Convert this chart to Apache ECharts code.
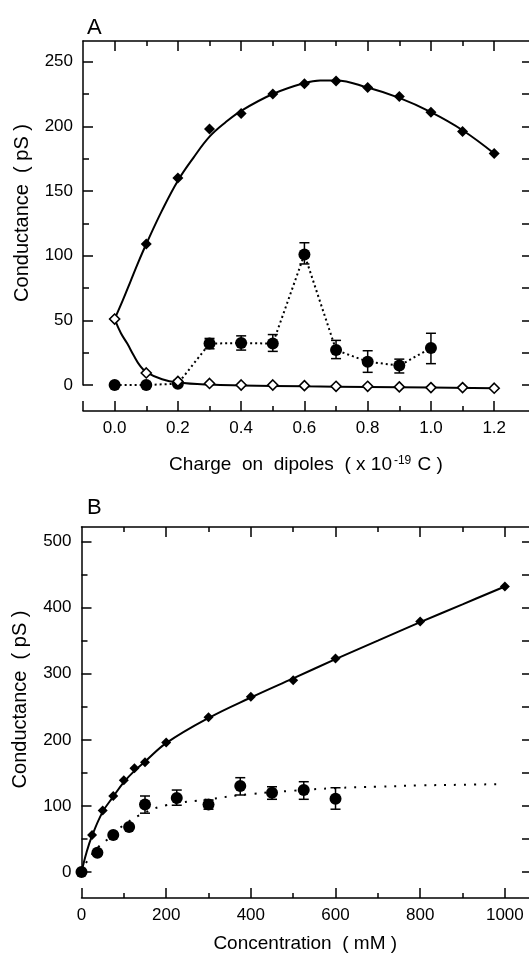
<!DOCTYPE html>
<html>
<head>
<meta charset="utf-8">
<script src="https://cdn.jsdelivr.net/npm/echarts@6/dist/echarts.min.js"></script>
<style>
html,body{margin:0;padding:0;background:#fff;}
#chart{width:529px;height:962px;}
</style>
</head>
<body>
<div id="chart"></div>
<script>
// ---------- Panel A data ----------
const chargeX = [0.0, 0.1, 0.2, 0.3, 0.4, 0.5, 0.6, 0.7, 0.8, 0.9, 1.0, 1.1, 1.2];
const aFilledDiamond = [51, 109, 160, 198, 210, 225, 233, 235, 230, 223, 211, 196, 179];
const aOpenDiamond = [51, 9.3, 2.8, 1.2, 0, 0, -0.5, -1, -1, -1.5, -2, -2, -2.5];
const aCircleX = [0.0, 0.1, 0.2, 0.3, 0.4, 0.5, 0.6, 0.7, 0.8, 0.9, 1.0];
const aCircle = [0, 0, 1, 32, 32.5, 32, 101, 27, 18, 15, 28.6];
const aCircleLow = [null, null, null, 28, 27, 26, 93.6, 20.4, 9.8, 9.3, 16.5];
const aCircleHigh = [null, null, null, 36, 38, 39, 110, 34.5, 26.5, 20, 40];
const aRiseFitX = [0, 0.025, 0.05, 0.075, 0.1, 0.15, 0.2, 0.25, 0.3, 0.35, 0.4, 0.5, 0.6, 0.65, 0.7, 0.8, 0.9, 1.0, 1.1, 1.2];
const aRiseFitY = [51, 65, 80, 95, 109, 135, 158, 176, 192, 203, 212, 225, 233.5, 235.5, 235.5, 230, 222, 211, 197, 179];
const aDecayFitX = [0, 0.02, 0.04, 0.06, 0.08, 0.1, 0.15, 0.2, 0.3, 0.4, 0.6, 0.8, 1.0, 1.2];
const aDecayFitY = [51, 40, 32, 23, 15, 10, 4.5, 2, 0.3, -0.3, -1, -1.5, -2, -2.5];
// Panel A ticks
const aXMajorTicks = [-0.1, 0.0, 0.2, 0.4, 0.6, 0.8, 1.0, 1.2];
const aXLabels = [0.0, 0.2, 0.4, 0.6, 0.8, 1.0, 1.2];
const aXMinorTicks = [0.1, 0.3, 0.5, 0.7, 0.9, 1.1];
const aXTopMajor = [0.0, 0.2, 0.4, 0.6, 0.8, 1.0, 1.2];
const aYMajor = [0, 50, 100, 150, 200, 250];
const aYMinor = [25, 75, 125, 175, 225];
const aYRight = [0, 25, 50, 75, 100, 125, 150, 175, 200, 225, 250];

// ---------- Panel B data ----------
const concX = [0, 25, 50, 75, 100, 125, 150, 200, 300, 400, 500, 600, 800, 1000];
const bDiamond = [0, 56, 93, 115, 139, 157, 166, 196, 234, 265, 290, 323, 379, 432];
const bCircleX = [0, 37.5, 75, 112.5, 150, 225, 300, 375, 450, 525, 600];
const bCircle = [0, 29, 56, 68, 102, 112, 102, 130, 120, 124, 111];
const bCircleLow = [null, null, null, null, 89, 101, 95, 116.5, 110, 110, 95];
const bCircleHigh = [null, null, null, null, 115, 124, 109, 142.7, 129, 136.6, 127.5];
const bSolidFitX = [0, 12, 25, 50, 75, 100, 125, 150, 200, 300, 400, 500, 600, 700, 800, 900, 1000];
const bSolidFitY = [0, 30, 55, 91, 114, 136, 153, 167, 195, 233, 264, 293, 322, 350, 378, 405, 432];
const bDotFitX = [0, 15, 40, 57, 100, 150, 200, 300, 400, 500, 600, 700, 800, 900, 990];
const bDotFitY = [0, 18, 38, 47, 71, 90, 101, 110, 118, 123, 127, 129, 131, 132, 133];
// Panel B ticks
const bXMajorTicks = [0, 200, 400, 600, 800, 1000];
const bXMinorTicks = [100, 300, 500, 700, 900];
const bXTopMajor = [200, 400, 600, 800, 1000];
const bYMajor = [0, 100, 200, 300, 400, 500];
const bYMinor = [50, 150, 250, 350, 450];
const bYRight = [0, 50, 100, 150, 200, 250, 300, 350, 400, 450, 500];

const FONT = 'Liberation Sans, Arial, sans-serif';
const BLACK = '#000';
const zip = (xs, ys) => xs.map((x, i) => [x, ys[i]]);
const errs = (xs, lo, hi) => xs.map((x, i) => [x, lo[i], hi[i]]).filter(d => d[1] !== null);

function ax(grid, min, max, opts) {
  return Object.assign({
    type: 'value', gridIndex: grid, min: min, max: max,
    axisLine: { show: true, onZero: false, lineStyle: { color: BLACK, width: 1.5 } },
    splitLine: { show: false },
    axisLabel: { show: false },
    axisTick: { show: false }
  }, opts);
}
const noLine = { show: false, onZero: false };
function tick(vals, len) {
  return { show: true, inside: true, length: len, customValues: vals, lineStyle: { color: BLACK, width: 1.5 } };
}
const labelStyle = { show: true, color: BLACK, fontSize: 17, fontFamily: FONT };
const A_XMAX = 1.31, B_XMAX = 1057;

const chart = echarts.init(document.getElementById('chart'), null, { renderer: 'canvas' });

function errBar(xi, yi, data, halfCap) {
  return {
    type: 'custom', xAxisIndex: xi, yAxisIndex: yi, data: data, z: 3, clip: false,
    encode: { x: 0, y: [1, 2] },
    renderItem: function (params, api) {
      const x = api.value(0), lo = api.value(1), hi = api.value(2);
      const p1 = api.coord([x, lo]), p2 = api.coord([x, hi]);
      const st = { stroke: BLACK, lineWidth: 1.5 };
      return {
        type: 'group', children: [
          { type: 'line', shape: { x1: p1[0], y1: p1[1], x2: p2[0], y2: p2[1] }, style: st },
          { type: 'line', shape: { x1: p1[0] - halfCap, y1: p1[1], x2: p1[0] + halfCap, y2: p1[1] }, style: st },
          { type: 'line', shape: { x1: p2[0] - halfCap, y1: p2[1], x2: p2[0] + halfCap, y2: p2[1] }, style: st }
        ]
      };
    }
  };
}

const option = {
  backgroundColor: '#fff',
  animation: false,
  title: [
    { text: 'A', left: 82, top: 12, textStyle: { fontSize: 22, fontWeight: 'normal', color: BLACK, fontFamily: FONT } },
    { text: 'B', left: 82, top: 492, textStyle: { fontSize: 22, fontWeight: 'normal', color: BLACK, fontFamily: FONT } }
  ],
  grid: [
    { left: 83, top: 41, right: 0, height: 344 },
    { left: 81.5, top: 527, right: 0, height: 345 }
  ],
  xAxis: [
    // A bottom major (0)
    ax(0, -0.1, A_XMAX, {
      position: 'bottom', offset: 26,
      axisTick: tick(aXMajorTicks, 10),
      axisLabel: Object.assign({}, labelStyle, { customValues: aXLabels, margin: 9, formatter: v => Number(v).toFixed(1) }),
      name: 'Charge  on  dipoles  ( x 10{sup|-19} C )',
      nameLocation: 'middle', nameGap: 44,
      nameTextStyle: { color: BLACK, fontSize: 19, fontFamily: FONT,
        rich: { sup: { fontSize: 12, fontFamily: FONT, color: BLACK, verticalAlign: 'top', padding: [0, 1, 0, 2] } } }
    }),
    // A bottom minor (1)
    ax(0, -0.1, A_XMAX, { position: 'bottom', offset: 26, axisLine: noLine, axisTick: tick(aXMinorTicks, 5) }),
    // A top major (2)
    ax(0, -0.1, A_XMAX, { position: 'top', axisTick: tick(aXTopMajor, 10) }),
    // A top minor (3)
    ax(0, -0.1, A_XMAX, { position: 'top', axisLine: noLine, axisTick: tick(aXMinorTicks, 5) }),
    // B bottom major (4)
    ax(1, 0, B_XMAX, {
      position: 'bottom', offset: 26,
      axisTick: tick(bXMajorTicks, 10),
      axisLabel: Object.assign({}, labelStyle, { customValues: bXMajorTicks, margin: 9, formatter: v => String(Math.round(v)) }),
      name: 'Concentration  ( mM )',
      nameLocation: 'middle', nameGap: 36,
      nameTextStyle: { color: BLACK, fontSize: 19, fontFamily: FONT }
    }),
    // B bottom minor (5)
    ax(1, 0, B_XMAX, { position: 'bottom', offset: 26, axisLine: noLine, axisTick: tick(bXMinorTicks, 5) }),
    // B top major (6)
    ax(1, 0, B_XMAX, { position: 'top', axisTick: tick(bXTopMajor, 10) }),
    // B top minor (7)
    ax(1, 0, B_XMAX, { position: 'top', axisLine: noLine, axisTick: tick(bXMinorTicks, 5) })
  ],
  yAxis: [
    // A left major (0)
    ax(0, 0, 266, {
      position: 'left',
      axisTick: tick(aYMajor, 10),
      axisLabel: Object.assign({}, labelStyle, { customValues: aYMajor, margin: 10 }),
      name: 'Conductance  ( pS )', nameLocation: 'middle', nameGap: 51, nameRotate: 90,
      nameTextStyle: { color: BLACK, fontSize: 20, fontFamily: FONT }
    }),
    // A left minor (1)
    ax(0, 0, 266, { position: 'left', axisLine: noLine, axisTick: tick(aYMinor, 6) }),
    // A right (2) - its frame line lies just past the picture edge, only ticks show
    ax(0, 0, 266, { position: 'right', axisLine: noLine, axisTick: tick(aYRight, 7) }),
    // B left major (3)
    ax(1, 0, 522, {
      position: 'left',
      axisTick: tick(bYMajor, 10),
      axisLabel: Object.assign({}, labelStyle, { customValues: bYMajor, margin: 10 }),
      name: 'Conductance  ( pS )', nameLocation: 'middle', nameGap: 51, nameRotate: 90,
      nameTextStyle: { color: BLACK, fontSize: 20, fontFamily: FONT }
    }),
    // B left minor (4)
    ax(1, 0, 522, { position: 'left', axisLine: noLine, axisTick: tick(bYMinor, 6) }),
    // B right (5)
    ax(1, 0, 522, { position: 'right', axisLine: noLine, axisTick: tick(bYRight, 7) })
  ],
  series: [
    // ---- Panel A ----
    { type: 'line', xAxisIndex: 0, yAxisIndex: 0, data: zip(aRiseFitX, aRiseFitY), smooth: 0.4, showSymbol: false, clip: false,
      lineStyle: { color: BLACK, width: 2 }, z: 2 },
    { type: 'line', xAxisIndex: 0, yAxisIndex: 0, data: zip(aDecayFitX, aDecayFitY), smooth: 0.4, showSymbol: false, clip: false,
      lineStyle: { color: BLACK, width: 2 }, z: 2 },
    { type: 'line', xAxisIndex: 0, yAxisIndex: 0, data: zip(aCircleX, aCircle), showSymbol: false, clip: false,
      lineStyle: { color: BLACK, width: 2, type: [2, 3] }, z: 2 },
    errBar(0, 0, errs(aCircleX, aCircleLow, aCircleHigh), 5),
    { type: 'scatter', xAxisIndex: 0, yAxisIndex: 0, data: zip(chargeX, aFilledDiamond), symbol: 'diamond', symbolSize: [11, 11], clip: false,
      itemStyle: { color: BLACK, opacity: 1 }, z: 4 },
    { type: 'scatter', xAxisIndex: 0, yAxisIndex: 0, data: zip(aCircleX, aCircle), symbol: 'circle', symbolSize: 12, clip: false,
      itemStyle: { color: BLACK, opacity: 1 }, z: 4 },
    { type: 'scatter', xAxisIndex: 0, yAxisIndex: 0, data: zip(chargeX, aOpenDiamond), symbol: 'diamond', symbolSize: [10, 10], clip: false,
      itemStyle: { color: '#fff', borderColor: BLACK, borderWidth: 1.6, opacity: 1 }, z: 5 },
    // ---- Panel B ----
    { type: 'line', xAxisIndex: 4, yAxisIndex: 3, data: zip(bSolidFitX, bSolidFitY), smooth: 0.4, showSymbol: false, clip: false,
      lineStyle: { color: BLACK, width: 2 }, z: 2 },
    { type: 'line', xAxisIndex: 4, yAxisIndex: 3, data: zip(bDotFitX, bDotFitY), smooth: 0.4, showSymbol: false, clip: false,
      lineStyle: { color: BLACK, width: 2, type: [2, 8] }, z: 2 },
    errBar(4, 3, errs(bCircleX, bCircleLow, bCircleHigh), 5),
    { type: 'scatter', xAxisIndex: 4, yAxisIndex: 3, data: zip(concX, bDiamond), symbol: 'diamond', symbolSize: [10, 10], clip: false,
      itemStyle: { color: BLACK, opacity: 1 }, z: 4 },
    { type: 'scatter', xAxisIndex: 4, yAxisIndex: 3, data: zip(bCircleX, bCircle), symbol: 'circle', symbolSize: 12, clip: false,
      itemStyle: { color: BLACK, opacity: 1 }, z: 4 }
  ]
};
chart.setOption(option);
</script>
</body>
</html>
